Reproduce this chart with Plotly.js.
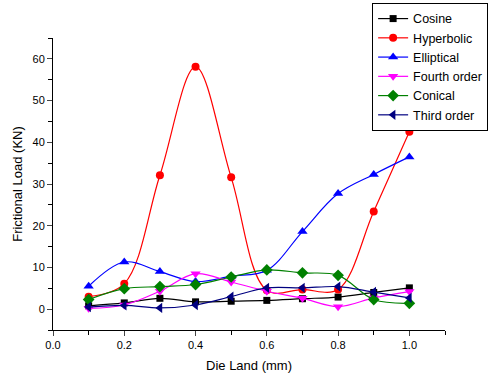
<!DOCTYPE html>
<html>
<head>
<meta charset="utf-8">
<script src="https://cdn.plot.ly/plotly-3.0.1.min.js"></script>
<style>html,body{margin:0;padding:0;background:#fff;}#chart{width:491px;height:380px;}</style>
</head>
<body>
<div id="chart"></div>
<script>
const dieLand = [0.1, 0.2, 0.3, 0.4, 0.5, 0.6, 0.7, 0.8, 0.9, 1.0];
const cosine = [0.8, 1.5, 2.6, 1.75, 1.9, 2.1, 2.5, 2.9, 4.0, 5.1];
const hyperbolic = [3.0, 6.1, 32.1, 58.1, 31.6, 4.5, 4.7, 4.7, 23.4, 42.5];
const elliptical = [5.5, 11.3, 9.0, 6.6, 7.9, 9.3, 18.6, 27.7, 32.3, 36.5];
const fourthOrder = [0.2, 1.0, 4.3, 8.5, 6.5, 4.3, 2.6, 0.6, 2.7, 4.2];
const conical = [2.3, 4.9, 5.4, 5.9, 7.7, 9.4, 8.7, 8.1, 2.3, 1.4];
const thirdOrder = [0.5, 0.9, 0.3, 1.0, 3.0, 5.1, 5.1, 5.4, 4.1, 2.7];
const xTicks = [0, 0.2, 0.4, 0.6, 0.8, 1.0];
const xTickText = ['0.0', '0.2', '0.4', '0.6', '0.8', '1.0'];
const yTicks = [0, 10, 20, 30, 40, 50, 60];

const series = [
  {name: 'Cosine', y: cosine, color: '#000000', symbol: 'square', size: 7},
  {name: 'Hyperbolic', y: hyperbolic, color: '#ff0000', symbol: 'circle', size: 8},
  {name: 'Elliptical', y: elliptical, color: '#0000ff', symbol: 'triangle-up', size: 9},
  {name: 'Fourth order', y: fourthOrder, color: '#ff00ff', symbol: 'triangle-down', size: 9},
  {name: 'Conical', y: conical, color: '#008000', symbol: 'diamond', size: 9},
  {name: 'Third order', y: thirdOrder, color: '#000080', symbol: 'triangle-left', size: 9}
];

const data = series.map(s => ({
  x: dieLand, y: s.y, name: s.name, type: 'scatter', mode: 'lines+markers',
  line: {color: s.color, width: 1.2, shape: 'spline', smoothing: 1},
  marker: {color: s.color, symbol: s.symbol, size: s.size}
}));

const layout = {
  width: 491, height: 380,
  margin: {l: 53, r: 46, t: 38, b: 50, autoexpand: false},
  paper_bgcolor: '#fff', plot_bgcolor: '#fff',
  font: {family: 'Liberation Sans, Arial, sans-serif', color: '#000'},
  showlegend: true,
  legend: {x: 1.11, y: 1.12, xanchor: 'right', yanchor: 'top', bordercolor: '#000', borderwidth: 1,
           bgcolor: '#fff', font: {size: 12.5}, tracegroupgap: 0},
  xaxis: {
    range: [0, 1.1], tickvals: xTicks, ticktext: xTickText, ticks: 'outside', ticklen: 5,
    minor: {dtick: 0.1, ticks: 'outside', ticklen: 4, tickcolor: '#000'},
    showgrid: false, zeroline: false, showline: true, linecolor: '#000', linewidth: 1,
    tickfont: {size: 11},
    title: {text: 'Die Land (mm)', font: {size: 13}, standoff: 10}
  },
  yaxis: {
    range: [-5, 65], tickvals: yTicks, ticks: 'outside', ticklen: 5,
    minor: {dtick: 5, ticks: 'outside', ticklen: 4, tickcolor: '#000'},
    showgrid: false, zeroline: false, showline: true, linecolor: '#000', linewidth: 1,
    tickfont: {size: 11},
    title: {text: 'Frictional Load (KN)', font: {size: 13}, standoff: 6}
  }
};

Plotly.newPlot('chart', data, layout, {displayModeBar: false, staticPlot: true});
</script>
</body>
</html>
